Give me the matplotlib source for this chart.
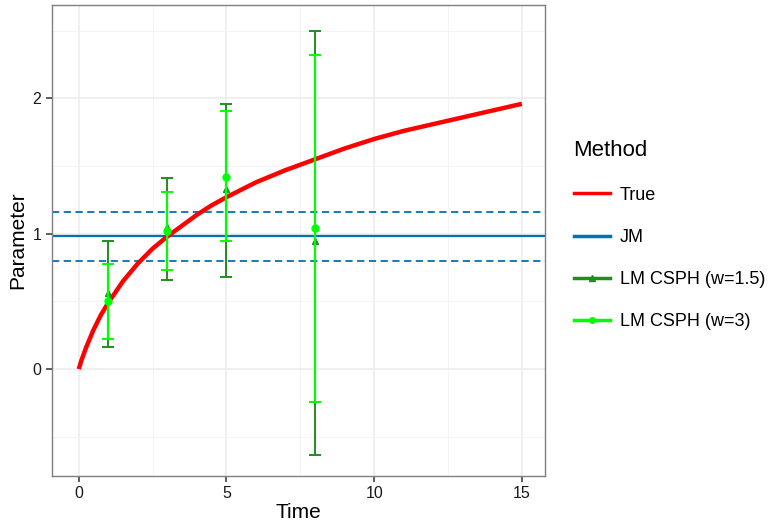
import numpy as np
import matplotlib.pyplot as plt
from matplotlib.lines import Line2D

plt.rcParams['font.family'] = ['Liberation Sans', 'DejaVu Sans']

# true parameter curve
true_t = [0, 0.1, 0.25, 0.5, 0.75, 1, 1.5, 2, 2.5, 3, 3.5, 4, 4.5, 5, 6, 7, 8,
          9, 10, 11, 12, 13, 14, 15]
true_y = [0, 0.07, 0.16, 0.29, 0.40, 0.49, 0.65, 0.78, 0.89, 0.98, 1.06, 1.14,
          1.21, 1.27, 1.38, 1.47, 1.55, 1.63, 1.70, 1.76, 1.81, 1.86, 1.91, 1.96]

# joint model estimate and CI
jm_est = 0.98
jm_lo = 0.80
jm_hi = 1.16

# landmark estimates
lm_t = [1, 3, 5, 8]
lm15_est = [0.56, 1.05, 1.33, 0.95]
lm15_lo = [0.165, 0.66, 0.68, -0.635]
lm15_hi = [0.95, 1.41, 1.96, 2.50]
lm3_est = [0.50, 1.02, 1.42, 1.04]
lm3_lo = [0.22, 0.73, 0.945, -0.245]
lm3_hi = [0.775, 1.31, 1.91, 2.32]

c_true = '#FF0000'
c_jm = '#0072B2'
c_dark = '#228B22'
c_light = '#00FF00'

fig = plt.figure(figsize=(7.74, 5.28), dpi=100)
ax = fig.add_axes([0.067, 0.0985, 0.637, 0.892])

ax.set_xlim(-0.91, 15.78)
ax.set_ylim(-0.79, 2.69)
ax.set_xticks([0, 5, 10, 15])
ax.set_xticks([2.5, 7.5, 12.5], minor=True)
ax.set_yticks([0, 1, 2])
ax.set_yticks([-0.5, 0.5, 1.5, 2.5], minor=True)
ax.grid(which='major', color='#EBEBEB', lw=1.1, zorder=0)
ax.grid(which='minor', color='#F3F3F3', lw=0.6, zorder=0)
ax.set_axisbelow(True)
for s in ax.spines.values():
    s.set_color('#7F7F7F')
    s.set_linewidth(1.0)
ax.tick_params(which='major', length=4, width=1.1, color='#333333',
               labelsize=11.5, labelcolor='#1A1A1A')
ax.tick_params(which='minor', length=0)

# JM
ax.axhline(jm_est, color=c_jm, lw=1.6, zorder=2)
ax.axhline(jm_lo, color=c_jm, lw=1.3, dashes=(4, 2.5), zorder=2)
ax.axhline(jm_hi, color=c_jm, lw=1.3, dashes=(4, 2.5), zorder=2)

# true
ax.plot(true_t, true_y, color=c_true, lw=3.2, zorder=3, solid_capstyle='butt',
        solid_joinstyle='round')

# landmark
e15 = [np.array(lm15_est) - np.array(lm15_lo), np.array(lm15_hi) - np.array(lm15_est)]
ax.errorbar(lm_t, lm15_est, yerr=e15, fmt='^', color=c_dark, ms=5,
            elinewidth=1.4, capsize=4, capthick=1.4, zorder=4)
e3 = [np.array(lm3_est) - np.array(lm3_lo), np.array(lm3_hi) - np.array(lm3_est)]
ax.errorbar(lm_t, lm3_est, yerr=e3, fmt='o', color=c_light, ms=5,
            elinewidth=1.6, capsize=4, capthick=1.4, zorder=5)

ax.set_xlabel('Time', fontsize=15, labelpad=1)
ax.set_ylabel('Parameter', fontsize=15, labelpad=4)

handles = [
    Line2D([], [], color=c_true, lw=2.5),
    Line2D([], [], color=c_jm, lw=2.5),
    Line2D([], [], color=c_dark, lw=2.5, marker='^', ms=5),
    Line2D([], [], color=c_light, lw=2.5, marker='o', ms=4),
]
labels = ['True', 'JM', 'LM CSPH (w=1.5)', 'LM CSPH (w=3)']
leg = fig.legend(handles, labels, title='Method', loc='upper left',
                 bbox_to_anchor=(0.72, 0.765), frameon=False, fontsize=13,
                 title_fontsize=16, handlelength=2.0, handletextpad=0.55,
                 labelspacing=1.4, alignment='left')

fig.savefig('out.png', dpi=100)
